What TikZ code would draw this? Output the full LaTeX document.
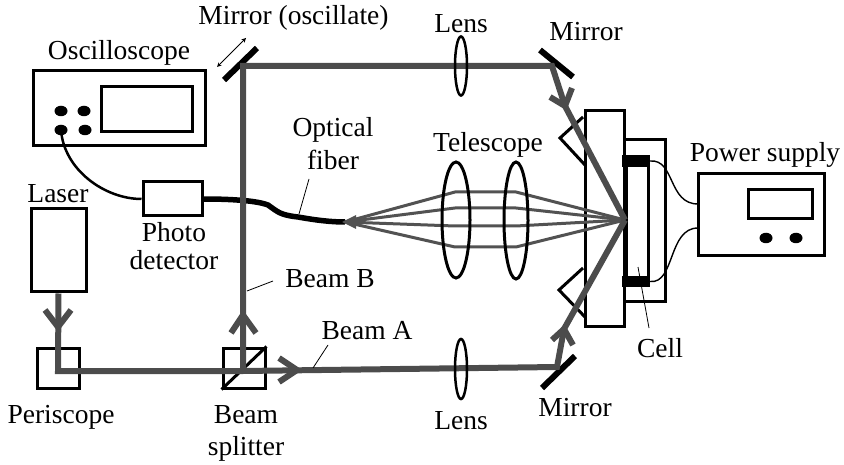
\documentclass[tikz,border=0pt]{standalone}
\usepackage{fontspec}
\setmainfont{Liberation Serif}
\usetikzlibrary{shapes.geometric}
\tikzset{
    txt/.style={anchor=base,inner sep=0pt,font=\fontsize{27.5}{30}\selectfont},
    box/.style={draw,line width=3pt,inner sep=0pt},
    knob/.style={ellipse,fill=black,inner sep=0pt,minimum width=13pt,minimum height=10.5pt},
    lens/.style={ellipse,draw,inner sep=0pt},
    beam/.style={draw=black!70,line width=6pt,line join=miter},
    ray/.style={draw=black!68,line width=3pt},
    mirror/.style={draw,line width=6pt},
    block/.style={fill=black,inner sep=0pt,minimum width=28pt,minimum height=11.5pt},
    leader/.style={draw,line width=0.8pt}
}
\begin{document}
\begin{tikzpicture}[x=1pt,y=-1pt]
    \useasboundingbox (0,0) rectangle (844,465);
    % oscilloscope
    \node[box,minimum width=172pt,minimum height=75pt] (scope) at (119,108.5) {};
    \node[box,minimum width=91pt,minimum height=45pt] (scopescreen) at (146.5,109.5) {};
    \node[knob] (knoba) at (61,111) {};
    \node[knob] (knobb) at (84,111) {};
    \node[knob] (knobc) at (61,130) {};
    \node[knob] (knobd) at (85,130) {};
    % laser, periscope, beam splitter
    \node[box,minimum width=55pt,minimum height=83pt] (laser) at (58.5,250.5) {};
    \node[box,minimum width=42pt,minimum height=40pt] (periscope) at (58,368) {};
    \node[box,minimum width=42pt,minimum height=40pt] (splitter) at (244,368) {};
    \draw[line width=3pt] (splitter.south west) -- (splitter.north east);
    % detector and fiber
    \node[box,minimum width=59pt,minimum height=34pt] (detector) at (172.5,199) {};
    \coordinate (fibertip) at (345,222);
    \draw[line width=2.5pt] (knobc.center) .. controls (64,170) and (105,199) .. (detector.west);
    \draw[line width=5.5pt] (detector.east) .. controls (225,199) and (255,200) .. (268,205)
        .. controls (278,212) and (280,215) .. (298,217) .. controls (315,220) and (330,222) .. (fibertip);
    % sample plate
    \node[box,minimum width=41pt,minimum height=162pt] (holder) at (644.5,221) {};
    \draw[line width=3pt,line join=miter] (583,117) -- (560,138) -- (585,165);
    \draw[line width=3pt,line join=miter] (583,268) -- (559,290) -- (585,317);
    \node[box,fill=white,minimum width=39pt,minimum height=216pt] (plate) at (604.5,219) {};
    % cell
    \node[block] (celltop) at (636,161) {};
    \node[block] (cellbot) at (636,281.5) {};
    \coordinate (wallat) at (626,166);
    \coordinate (wallab) at (626,276);
    \coordinate (wallbt) at (648,166);
    \coordinate (wallbb) at (648,276);
    \draw[line width=4.5pt] (wallat) -- (wallab);
    \draw[line width=3pt] (wallbt) -- (wallbb);
    % power supply
    \node[box,minimum width=126pt,minimum height=82pt] (supply) at (761.5,215) {};
    \node[box,minimum width=64pt,minimum height=29pt] (supplyscreen) at (780,204.5) {};
    \node[knob] (knobe) at (766,238) {};
    \node[knob] (knobf) at (796,238) {};
    \coordinate (wirea) at (698,204);
    \coordinate (wireb) at (698,228);
    \draw[line width=1.4pt] (celltop.east) .. controls (675,159) and (668,204) .. (wirea);
    \draw[line width=1.4pt] (cellbot.east) .. controls (675,284) and (668,228) .. (wireb);
    % mirrors
    \coordinate (oscmirrora) at (224,80);
    \coordinate (oscmirrorb) at (257,48);
    \coordinate (topmirrora) at (540,50);
    \coordinate (topmirrorb) at (573,77);
    \coordinate (botmirrora) at (542,388);
    \coordinate (botmirrorb) at (575,356);
    \draw[mirror] (oscmirrora) -- (oscmirrorb);
    \draw[mirror] (topmirrora) -- (topmirrorb);
    \draw[mirror] (botmirrora) -- (botmirrorb);
    \coordinate (shakea) at (217,67);
    \coordinate (shakeb) at (246,38);
    \draw[<->,>=stealth,line width=1pt] (shakea) -- (shakeb);
    % telescope rays
    \coordinate (focus) at (625,220);
    \foreach \name/\y in {a/192,b/208,c/226,d/247} {
        \coordinate (ray\name l) at (455,\y);
        \coordinate (ray\name r) at (516,\y);
        \draw[ray] (fibertip) -- (ray\name l) -- (ray\name r) -- (focus);
    }
    \fill[black!68] (342,222) -- (356,215) -- (356,229) -- cycle;
    \node[lens,line width=3pt,minimum width=28pt,minimum height=116pt] (telea) at (456,220) {};
    \node[lens,line width=3pt,minimum width=24pt,minimum height=117pt] (teleb) at (516,220.5) {};
    % beams
    \coordinate (perisbeam) at (58,371);
    \coordinate (splitbeam) at (243,371);
    \coordinate (oscbeam) at (243,66);
    \coordinate (topbeam) at (552,66);
    \coordinate (toptip) at (565,106);
    \coordinate (botbeam) at (557,367);
    \coordinate (bottip) at (564,329);
    \draw[beam] (laser.south) -- (perisbeam) -- (splitbeam);
    \draw[beam] (splitbeam) -- (oscbeam) -- (topbeam) -- (toptip) -- (focus);
    \draw[beam] (splitbeam) -- (botbeam) -- (bottip) -- (focus);
    % beam arrow heads
    \draw[beam] (45,310) -- (58,327) -- (71,310);
    \draw[beam] (231,333) -- (243,315) -- (256,333);
    \draw[beam] (279,358) -- (297,370) -- (279,382);
    \draw[beam] (550,97) -- (toptip) -- (572,88);
    \draw[beam] (552,340) -- (bottip) -- (573,345);
    % lenses
    \node[lens,line width=2.5pt,minimum width=12pt,minimum height=59pt] (lenstop) at (461,66) {};
    \node[lens,line width=2.5pt,minimum width=12pt,minimum height=60pt] (lensbot) at (461,369) {};
    % leaders
    \coordinate (leadb) at (247,291);
    \coordinate (leadbt) at (273,281);
    \coordinate (leada) at (313,368);
    \coordinate (leadat) at (328,345);
    \coordinate (leadf) at (299,214);
    \coordinate (leadft) at (309,179);
    \coordinate (leadc) at (638,267);
    \coordinate (leadct) at (649,328);
    \draw[leader] (leadb) -- (leadbt);
    \draw[leader] (leada) -- (leadat);
    \draw[leader] (leadf) -- (leadft);
    \draw[leader] (leadc) -- (leadct);
    % labels
    \node[txt] (lblmirror) at (293.5,25) {Mirror (oscillate)};
    \node[txt] (lblscope) at (119,60) {Oscilloscope};
    \node[txt] (lbllaser) at (58,203) {Laser};
    \node[txt] (lblphoto) at (174,242) {Photo};
    \node[txt] (lbldetector) at (174,270) {detector};
    \node[txt] (lblperiscope) at (61,423) {Periscope};
    \node[txt] (lblbeam) at (246,423) {Beam};
    \node[txt] (lblsplitter) at (246,455) {splitter};
    \node[txt] (lblbeamb) at (330,288) {Beam B};
    \node[txt] (lblbeama) at (367,339) {Beam A};
    \node[txt] (lbloptical) at (333,137) {Optical};
    \node[txt] (lblfiber) at (333,170) {fiber};
    \node[txt] (lbltele) at (488,152) {Telescope};
    \node[txt] (lbllensa) at (461,33) {Lens};
    \node[txt] (lbllensb) at (461,429) {Lens};
    \node[txt] (lblmirrora) at (586,41) {Mirror};
    \node[txt] (lblmirrorb) at (575,416) {Mirror};
    \node[txt] (lblcell) at (660,357) {Cell};
    \node[txt] (lblsupply) at (765,162) {Power supply};
\end{tikzpicture}
\end{document}
